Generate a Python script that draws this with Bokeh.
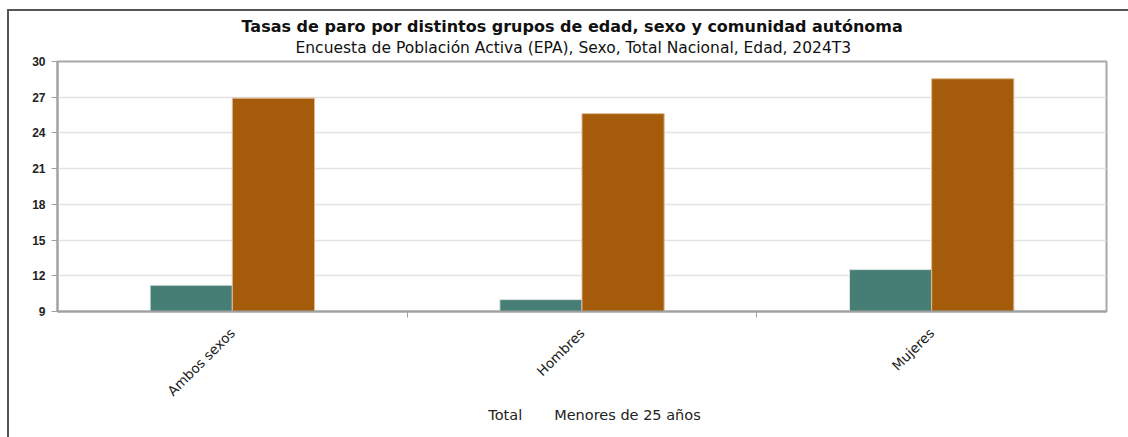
import numpy as np
from math import pi
from bokeh.plotting import figure
from bokeh.layouts import column
from bokeh.models import (ColumnDataSource, FixedTicker, Range1d, Title, Legend, LegendItem)
from bokeh.embed import file_html
from bokeh.resources import INLINE

# ---- data ----
categories = ["Ambos sexos", "Hombres", "Mujeres"]
series_names = ["Total", "Menores de 25 años"]
total_values = [11.21, 10.0, 12.52]
under25_values = [26.92, 25.62, 28.55]
y_ticks = [9, 12, 15, 18, 21, 24, 27, 30]

colors = ["#467e76", "#a45c0a"]
FONT = "DejaVu Sans"
TICKFONT = "Liberation Sans"

centers = np.arange(len(categories)) + 0.5
bar_w = 0.235

p = figure(width=1119, height=396, output_backend="svg", toolbar_location=None,
           title=None, x_range=Range1d(0, len(categories)), y_range=Range1d(9, 30),
           min_border_left=48, min_border_right=22, min_border_top=50,
           min_border_bottom=80)

src_t = ColumnDataSource(dict(x=centers - bar_w / 2, top=total_values, cat=categories))
src_u = ColumnDataSource(dict(x=centers + bar_w / 2, top=under25_values, cat=categories))
p.vbar(x="x", top="top", bottom=9, width=bar_w, source=src_t,
       fill_color=colors[0], line_color="#d8e4e2", line_width=1)
p.vbar(x="x", top="top", bottom=9, width=bar_w, source=src_u,
       fill_color=colors[1], line_color="#e0b890", line_width=1)

# titles
p.add_layout(Title(text="Encuesta de Población Activa (EPA), Sexo, Total Nacional, Edad, 2024T3",
                   align="left", offset=238, text_font=FONT, text_font_size="15.5px",
                   text_font_style="normal", text_color="#111111",
                   standoff=9), "above")
p.add_layout(Title(text="Tasas de paro por distintos grupos de edad, sexo y comunidad autónoma",
                   align="left", offset=184, text_font=FONT, text_font_size="16px",
                   text_font_style="bold", text_color="#111111",
                   standoff=-6), "above")

# y axis
p.yaxis.ticker = FixedTicker(ticks=y_ticks)
p.yaxis.axis_line_color = "#a0a0a0"
p.yaxis.axis_line_width = 2
p.yaxis.major_tick_line_color = "#a0a0a0"
p.yaxis.major_tick_out = 6
p.yaxis.major_tick_in = 0
p.yaxis.minor_tick_line_color = None
p.yaxis.major_label_text_font = TICKFONT
p.yaxis.major_label_text_font_size = "12px"
p.yaxis.major_label_text_font_style = "bold"
p.yaxis.major_label_text_color = "#222222"
p.yaxis.major_label_standoff = 6

# x axis
boundaries = list(np.arange(1, len(categories)))
p.xaxis.ticker = FixedTicker(ticks=list(centers), minor_ticks=boundaries)
p.xaxis.major_label_overrides = {float(c): name for c, name in zip(centers, categories)}
p.xaxis.major_label_orientation = pi / 4
p.xaxis.axis_line_color = "#a0a0a0"
p.xaxis.axis_line_width = 2
p.xaxis.major_tick_line_color = None
p.xaxis.major_tick_out = 0
p.xaxis.major_tick_in = 0
p.xaxis.minor_tick_line_color = "#a0a0a0"
p.xaxis.minor_tick_out = 6
p.xaxis.minor_tick_in = 0
p.xaxis.axis_label = None
p.xaxis.major_label_text_font = FONT
p.xaxis.major_label_text_font_size = "13.5px"
p.xaxis.major_label_text_color = "#222222"
p.xaxis.major_label_standoff = 13

# grid
p.xgrid.grid_line_color = None
p.ygrid.ticker = FixedTicker(ticks=y_ticks)
p.ygrid.grid_line_color = "#e3e3e3"
p.ygrid.grid_line_width = 1.5

p.outline_line_color = "#a8a8a8"
p.outline_line_width = 2

# legend strip (separate small figure below the chart)
lg = figure(width=1119, height=30, output_backend="svg", toolbar_location=None,
            x_axis_type=None, y_axis_type=None, min_border=0,
            min_border_left=0, min_border_right=0, min_border_top=0, min_border_bottom=0)
lg.outline_line_color = None
lg.grid.visible = False
e1 = lg.vbar(x=[], top=[], width=1, fill_color=colors[0], line_color="#d8e4e2")
e2 = lg.vbar(x=[], top=[], width=1, fill_color=colors[1], line_color="#e0b890")
legend = Legend(items=[LegendItem(label=series_names[0], renderers=[e1]),
                       LegendItem(label=series_names[1], renderers=[e2])],
                orientation="horizontal", location="top_center",
                label_text_font=FONT, label_text_font_size="14.5px",
                label_text_color="#222222", glyph_width=19, glyph_height=16,
                border_line_color=None, background_fill_alpha=0,
                spacing=6, label_standoff=7, padding=2, margin=0)
lg.add_layout(legend, "center")

layout = column(p, lg, spacing=0)
layout.styles = {"border-left": "2px solid #555555", "border-top": "2px solid #555555",
                 "margin-left": "7px", "margin-top": "9px"}

open("out.html", "w").write(file_html(layout, INLINE))
